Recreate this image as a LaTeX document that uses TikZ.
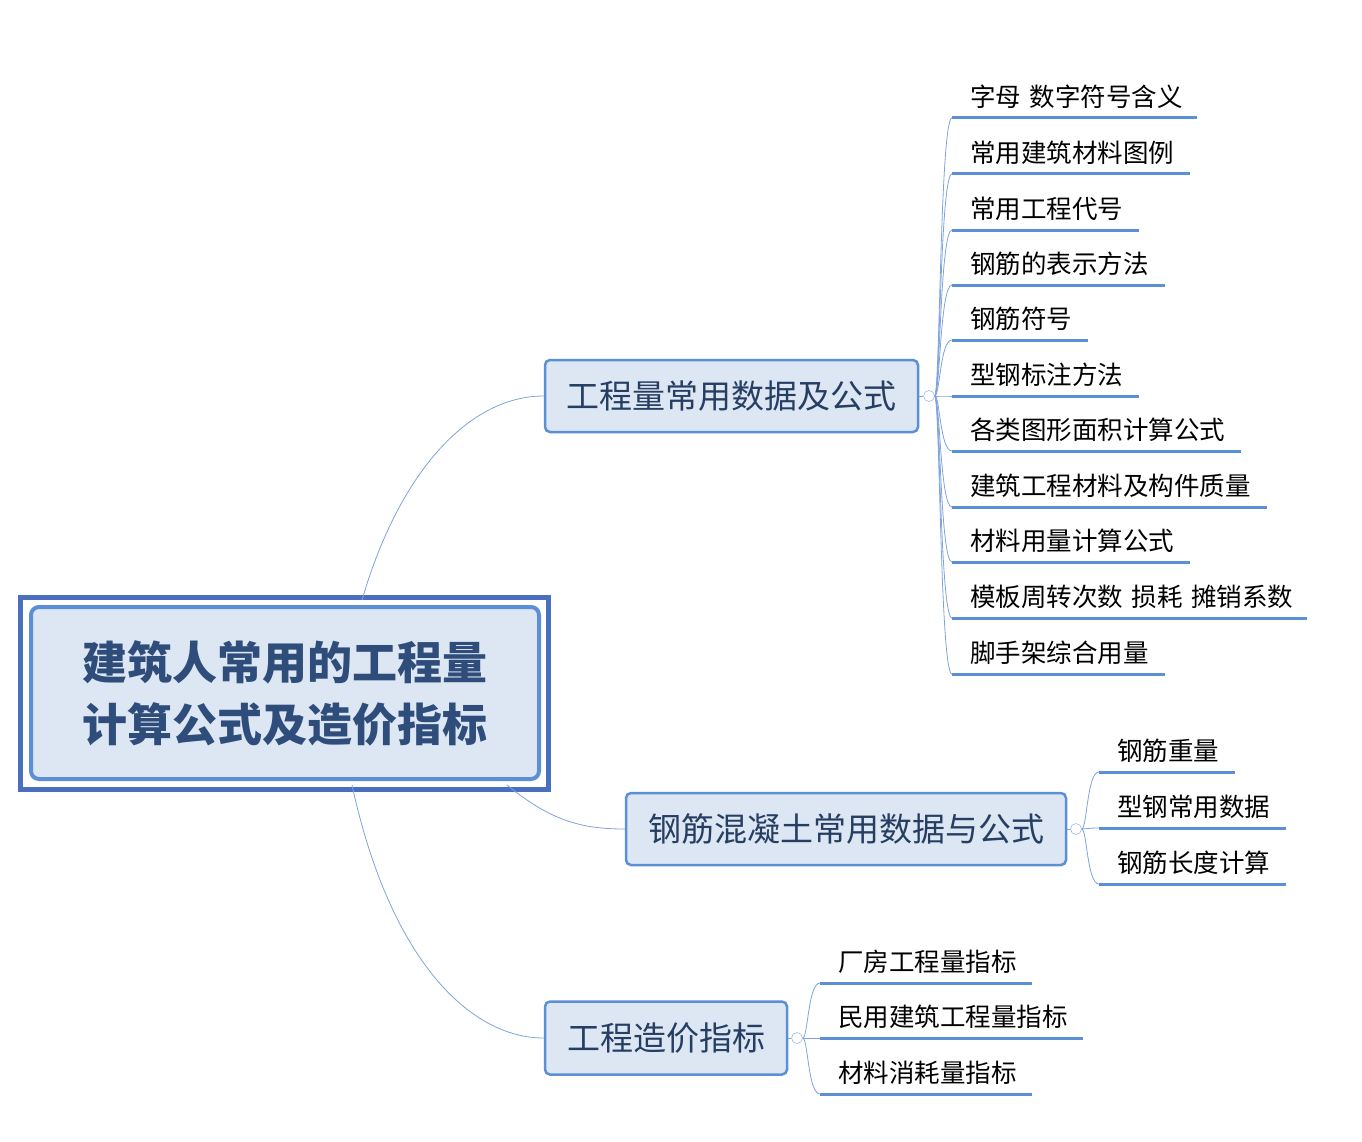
\documentclass[tikz,border=0pt]{standalone}
\usepackage{fontspec}
\setmainfont{Noto Sans CJK SC}
\usetikzlibrary{calc}
\definecolor{boxfill}{HTML}{DDE6F3}
\definecolor{boxline}{HTML}{5B8FD6}
\definecolor{rootline}{HTML}{4A6FBF}
\definecolor{roottext}{HTML}{2F4D7A}
\definecolor{linkline}{HTML}{7FA3DC}
\tikzset{
  topic/.style={draw=boxline,line width=2.5pt,fill=boxfill,rounded corners=5pt,inner sep=0pt,
    font=\fontsize{33}{36}\selectfont,text=roottext!80!black},
  leaf/.style={anchor=south west,inner xsep=18pt,inner ysep=9pt,align=left,
    font=\fontsize{25.5}{28}\selectfont,text=black},
  uline/.style={draw=boxline,line width=3pt},
  link/.style={draw=linkline,line width=0.8pt},
  knob/.style={circle,draw=linkline,fill=white,inner sep=0pt,minimum size=11pt}
}
\begin{document}
\begin{tikzpicture}[x=1pt,y=-1pt]
\useasboundingbox (0,0) rectangle (1362,1142);

% root
\draw[draw=rootline,line width=5pt] (20,597) rectangle (548,789);
\node[draw=boxline,line width=4pt,fill=boxfill,rounded corners=8pt,minimum width=508pt,minimum height=172pt,
  align=left,font=\fontsize{45}{62}\selectfont\bfseries,text=roottext] (root) at (285,693)
  {建筑人常用的工程量\\计算公式及造价指标};

% topics
\node[topic,minimum width=373pt,minimum height=72pt] (t1) at (731.5,396) {工程量常用数据及公式};
\node[topic,minimum width=440pt,minimum height=72pt] (t2) at (846,829) {钢筋混凝土常用数据与公式};
\node[topic,minimum width=242pt,minimum height=73pt] (t3) at (666,1038) {工程造价指标};

\draw[link] (362,600) .. controls (400,470) and (470,396) .. (t1.west);
\draw[link] (507,785) .. controls (550,820) and (580,829) .. (t2.west);
\draw[link] (352,785) .. controls (390,960) and (470,1038) .. (t3.west);

\node[knob] (k1) at (929,396) {};
\node[knob] (k2) at (1076,829) {};
\node[knob] (k3) at (797,1038) {};
\draw[link] (t1.east) -- (k1); \draw[link] (t2.east) -- (k2); \draw[link] (t3.east) -- (k3);

% leaves of first topic
\foreach \y/\e/\t [count=\i] in {118/1197/字母 数字符号含义,174/1190/常用建筑材料图例,230/1139/常用工程代号,
  285/1165/钢筋的表示方法,340/1088/钢筋符号,396/1139/型钢标注方法,451/1241/各类图形面积计算公式,
  507/1267/建筑工程材料及构件质量,562/1190/材料用量计算公式,618/1307/模板周转次数 损耗 摊销系数,674/1165/脚手架综合用量} {
  \node[leaf,text width=\e-952-36] (a\i) at (952,\y) {\mbox{\t}};
  \draw[uline] (a\i.south west) -- (a\i.south east);
  \draw[link] (k1.east) .. controls (940,396) and (940,\y) .. (a\i.south west);
}

% leaves of second topic
\foreach \y/\e/\t [count=\i] in {772/1235/钢筋重量,828/1286/型钢常用数据,884/1286/钢筋长度计算} {
  \node[leaf,text width=\e-1099-36] (b\i) at (1099,\y) {\mbox{\t}};
  \draw[uline] (b\i.south west) -- (b\i.south east);
  \draw[link] (k2.east) .. controls (1087,829) and (1087,\y) .. (b\i.south west);
}

% leaves of third topic
\foreach \y/\e/\t [count=\i] in {983/1032/厂房工程量指标,1038/1083/民用建筑工程量指标,1094/1032/材料消耗量指标} {
  \node[leaf,text width=\e-820-36] (c\i) at (820,\y) {\mbox{\t}};
  \draw[uline] (c\i.south west) -- (c\i.south east);
  \draw[link] (k3.east) .. controls (808,1038) and (808,\y) .. (c\i.south west);
}
\end{tikzpicture}
\end{document}
